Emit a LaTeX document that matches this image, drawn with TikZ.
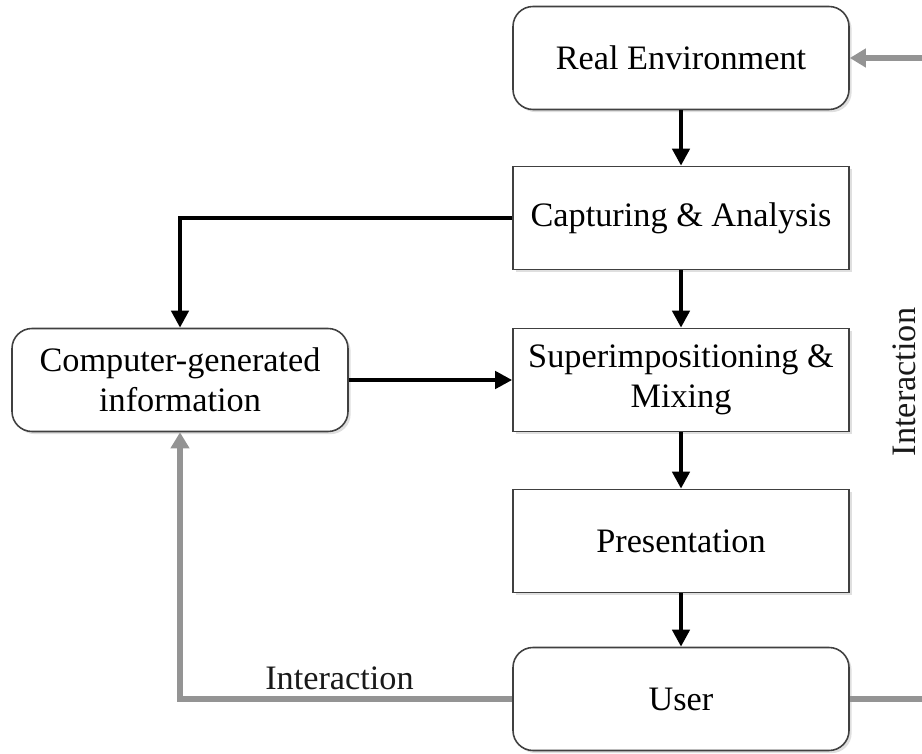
\documentclass[tikz,border=0pt]{standalone}
\usepackage{fontspec}
\setmainfont{Liberation Serif}
\usetikzlibrary{arrows.meta, positioning, shadows}

\begin{document}
\begin{tikzpicture}[>=Triangle, font=\fontsize{19.5}{23}\selectfont,
    % style of the boxes (round and square ones)
    box/.style={draw=black!75, line width=0.9pt, fill=white, minimum width=6.72cm, minimum height=2.06cm, align=center, inner sep=4pt,
      drop shadow={opacity=0.25, shadow xshift=1.5pt, shadow yshift=-1.5pt}},
    rbox/.style={box, rounded corners=0.4cm},
    flow/.style={->, line width=2.7pt, black, >={Triangle[length=0.34cm, width=0.34cm]}},
    back/.style={->, line width=3.2pt, black!42, >={Triangle[length=0.32cm, width=0.36cm]}},
    lbl/.style={font=\fontsize{19.5}{23}\selectfont, text=black!90}]

    \useasboundingbox (0,0) rectangle (18.44,15.06);
    \clip (0,0) rectangle (18.44,15.06);

    % main column
    \node[rbox] (real)  at (13.62,13.90) {Real Environment};
    \node[box]  (capt)  at (13.62,10.70) {Capturing \& Analysis};
    \node[box]  (super) at (13.62,7.46)  {Superimpositioning \&\\ Mixing};
    \node[box]  (pres)  at (13.62,4.24)  {Presentation};
    \node[rbox] (user)  at (13.62,1.08)  {User};

    % left side
    \node[rbox] (comp) at (3.60,7.46) {Computer-generated\\ information};

    % right side, the loop leaves the picture
    \coordinate (rgt) at (19.20,7.40);
    \node[lbl, rotate=90] (intr) at (18.08,7.42) {Interaction};

    % black arrows
    \draw[flow] (real) -- (capt);
    \draw[flow] (capt) -- (super);
    \draw[flow] (super) -- (pres);
    \draw[flow] (pres) -- (user);
    \draw[flow] (capt.west) -| (comp.north);
    \draw[flow] (comp.east) -- (super.west);

    % gray arrows
    \draw[back] (user.west) -| node[pos=0.26, above, lbl] {Interaction} (comp.south);
    \draw[back] (user.east) -- (user.east -| rgt) -- (real.east -| rgt) -- (real.east);
\end{tikzpicture}
\end{document}
